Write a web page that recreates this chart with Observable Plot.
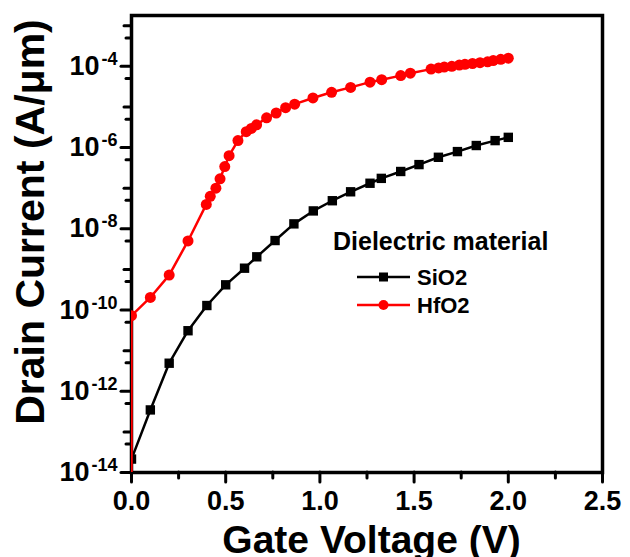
<!DOCTYPE html>
<html>
<head>
<meta charset="utf-8">
<script src="https://cdn.jsdelivr.net/npm/d3@7"></script>
<script src="https://cdn.jsdelivr.net/npm/@observablehq/plot@0.6"></script>
<style>
  html, body { margin: 0; padding: 0; background: #fff; overflow: hidden; }
  #chart { position: relative; width: 630px; height: 557px; }
</style>
</head>
<body>
<div id="chart"></div>
<script>
// ---------- data ----------
const seriesNames = ["SiO2", "HfO2"];
const seriesColors = ["#000000", "#ff0000"];
const legendTitle = "Dielectric material";
const xTitle = "Gate Voltage (V)";
const yTitle = "Drain Current (A/\u03bcm)";

// SiO2 : gate voltage (V) and drain current (A/um)
const sio2V = [0, 0.1, 0.2, 0.3, 0.4, 0.5, 0.6, 0.665, 0.762, 0.862, 0.965, 1.066, 1.163, 1.266, 1.326, 1.429, 1.526, 1.629, 1.73, 1.83, 1.93, 2.0];
const sio2I = [2.14e-14, 3.47e-13, 4.9e-12, 3.09e-11, 1.29e-10, 4.17e-10, 1.07e-9, 2.04e-9, 5.13e-9, 1.32e-8, 2.75e-8, 4.9e-8, 8.13e-8, 1.32e-7, 1.74e-7, 2.57e-7, 3.8e-7, 5.75e-7, 7.94e-7, 1.12e-6, 1.48e-6, 1.78e-6];

// HfO2 : gate voltage (V) and drain current (A/um); first value lies below the axis
const hfo2V = [0, 0, 0.1, 0.2, 0.3, 0.397, 0.418, 0.448, 0.47, 0.495, 0.518, 0.565, 0.609, 0.636, 0.664, 0.717, 0.768, 0.818, 0.866, 0.963, 1.062, 1.163, 1.266, 1.328, 1.429, 1.48, 1.59, 1.63, 1.66, 1.70, 1.74, 1.77, 1.81, 1.85, 1.89, 1.92, 1.96, 2.0];
const hfo2I = [1e-15, 7.24e-11, 2.04e-10, 7.24e-10, 5.01e-9, 3.98e-8, 6.31e-8, 1.0e-7, 1.7e-7, 3.39e-7, 6.31e-7, 1.48e-6, 2.45e-6, 2.95e-6, 3.63e-6, 5.37e-6, 7.08e-6, 9.55e-6, 1.17e-5, 1.66e-5, 2.29e-5, 3.02e-5, 4.07e-5, 4.68e-5, 5.89e-5, 6.76e-5, 8.51e-5, 9.12e-5, 9.55e-5, 1.0e-4, 1.07e-4, 1.12e-4, 1.17e-4, 1.23e-4, 1.29e-4, 1.38e-4, 1.48e-4, 1.58e-4];

// ticks
const xTicks = [0, 0.5, 1.0, 1.5, 2.0, 2.5];
const xMinorTicks = [0.25, 0.75, 1.25, 1.75, 2.25];
const yLabelExps = [-4, -6, -8, -10, -12, -14];
const yDecadeExps = [-3, -5, -7, -9, -11, -13];
const yFiveExps = [-4, -5, -6, -7, -8, -9, -10, -11, -12, -13, -14];
const xDomain = [0, 2.5];
const yDomain = [1e-14, Math.pow(10, -2.75)];

// ---------- build ----------
const sio2 = sio2V.map((v, k) => ({v, i: sio2I[k]}));
const hfo2 = hfo2V.map((v, k) => ({v, i: hfo2I[k]}));
const FONT = "'Liberation Sans', Arial, Helvetica, sans-serif";

const plot = Plot.plot({
  width: 630,
  height: 557,
  marginLeft: 131,
  marginRight: 28,
  marginTop: 15,
  marginBottom: 85,
  style: {fontFamily: FONT, fontWeight: "bold", background: "#fff", color: "#000"},
  x: {domain: xDomain},
  y: {type: "log", domain: yDomain},
  marks: [
    Plot.frame({stroke: "#000", strokeWidth: 3.5}),
    // x axis
    Plot.axisX({ticks: xTicks, tickSize: 10, tickPadding: 8, tickFormat: d => "X|" + d3.format(".1f")(d),
      fontSize: 27, strokeWidth: 3, strokeLinecap: "round", label: null}),
    Plot.axisX({ticks: xMinorTicks, tickSize: 6, text: null, strokeWidth: 3, strokeLinecap: "round", label: null}),
    // y axis
    Plot.axisY({ticks: yLabelExps.map(e => Math.pow(10, e)), tickSize: 10, tickPadding: 4,
      tickFormat: d => "10|" + Math.round(Math.log10(d)), fontSize: 27, strokeWidth: 3, strokeLinecap: "round", label: null}),
    Plot.axisY({ticks: yDecadeExps.map(e => Math.pow(10, e)), tickSize: 7, text: null, strokeWidth: 3, strokeLinecap: "round", label: null}),
    Plot.axisY({ticks: yFiveExps.map(e => 5 * Math.pow(10, e)), tickSize: 5, text: null, strokeWidth: 3, strokeLinecap: "round", label: null}),
    // series
    Plot.line(sio2, {x: "v", y: "i", stroke: seriesColors[0], strokeWidth: 2.5, clip: true}),
    Plot.dot(sio2, {x: "v", y: "i", symbol: "square", r: 5.3, fill: seriesColors[0], stroke: "none", clip: true}),
    Plot.line(hfo2, {x: "v", y: "i", stroke: seriesColors[1], strokeWidth: 2.5, clip: true}),
    Plot.dot(hfo2, {x: "v", y: "i", symbol: "circle", r: 5.5, fill: seriesColors[1], stroke: "none", clip: true}),
    // titles
    Plot.text([xTitle], {text: d => d, frameAnchor: "bottom", textAnchor: "middle", dx: 4.5, dy: 68.5, lineAnchor: "middle",
      fontSize: 39, fontWeight: "bold", fill: "#000"}),
    Plot.text([yTitle], {text: d => d, frameAnchor: "left", textAnchor: "middle", rotate: -90, dx: -101, dy: -22, lineAnchor: "middle",
      fontSize: 41, fontWeight: "bold", fill: "#000"})
  ]
});

// tick label styling: x labels and superscript exponents on y labels
d3.select(plot).selectAll("text").each(function() {
  const t = this.textContent;
  const sel = d3.select(this);
  if (t.startsWith("10|")) {
    const exp = t.split("|")[1];
    sel.text("").style("font-size", "27px").style("font-weight", "bold");
    sel.append("tspan").style("font-size", "27px").text("10");
    sel.append("tspan").attr("dx", 2).attr("dy", -10).style("font-size", "18px").text(exp);
  } else if (t.startsWith("X|")) {
    sel.text(t.slice(2)).style("font-size", "27px").style("font-weight", "bold");
  }
});

// legend (inside the frame)
const svg = d3.select(plot);
const lg = svg.append("g").attr("font-family", FONT).attr("font-weight", "bold").attr("fill", "#000");
lg.append("text").attr("x", 333).attr("y", 250).style("font-size", "25px").attr("text-anchor", "start").text(legendTitle);
const rowY = [277, 305];
seriesNames.forEach((name, k) => {
  const y = rowY[k];
  lg.append("line").attr("x1", 357).attr("x2", 410).attr("y1", y).attr("y2", y)
    .attr("stroke", seriesColors[k]).attr("stroke-width", 2.5);
  if (k === 0) {
    lg.append("rect").attr("x", 383.5 - 4.5).attr("y", y - 4.5).attr("width", 9).attr("height", 9).attr("fill", seriesColors[k]);
  } else {
    lg.append("circle").attr("cx", 383.5).attr("cy", y).attr("r", 5).attr("fill", seriesColors[k]);
  }
  lg.append("text").attr("x", 417).attr("y", y + 8).style("font-size", "22px").attr("text-anchor", "start").text(name);
});

document.getElementById("chart").appendChild(plot);
</script>
</body>
</html>
